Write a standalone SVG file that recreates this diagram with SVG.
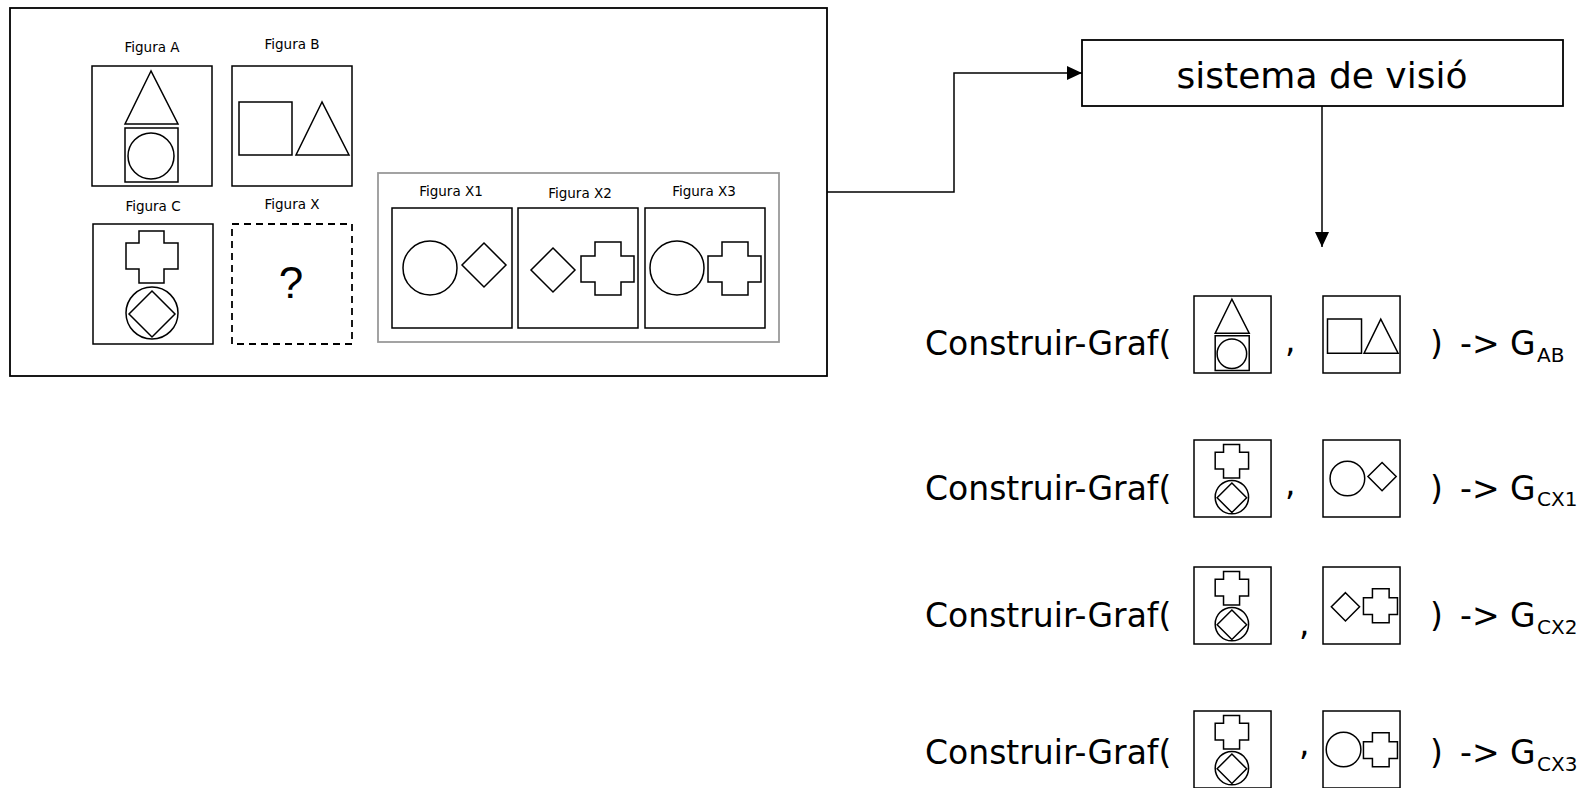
<svg xmlns="http://www.w3.org/2000/svg" width="1584" height="788" viewBox="0 0 1584 788">
<style>
  .ln{fill:none;stroke:#000;stroke-width:1.5;vector-effect:non-scaling-stroke}
  .dash{fill:none;stroke:#000;stroke-width:1.8;stroke-dasharray:7 5}
  .gray{fill:none;stroke:#999;stroke-width:1.8}
  .frame{fill:none;stroke:#000;stroke-width:1.8}
  .lbl{font-family:"DejaVu Sans",Verdana,sans-serif;font-size:13.5px;fill:#000;text-anchor:middle}
  .big{font-family:"DejaVu Sans",Verdana,sans-serif;font-size:33px;fill:#000}
  .sys{font-family:"DejaVu Sans",Verdana,sans-serif;font-size:36px;fill:#000;text-anchor:middle}
  .q{font-family:"Liberation Sans",Arial,sans-serif;font-size:44px;fill:#000;text-anchor:middle}
  .sub{font-size:20px}
  .conn{fill:none;stroke:#000;stroke-width:1.5}
</style>
<defs>
  <marker id="ah" markerUnits="userSpaceOnUse" markerWidth="15" markerHeight="14" refX="15" refY="7" orient="auto">
    <path d="M0,0 L15,7 L0,14 Z" fill="#000"/>
  </marker>
  <g id="fA">
    <rect class="ln" x="0" y="0" width="120" height="120"/>
    <polygon class="ln" points="59,5 33,58 86,58"/>
    <rect class="ln" x="33" y="62" width="53" height="54"/>
    <circle class="ln" cx="59" cy="90" r="23"/>
  </g>
  <g id="fB">
    <rect class="ln" x="0" y="0" width="120" height="120"/>
    <rect class="ln" x="7" y="36" width="53" height="53"/>
    <polygon class="ln" points="90,36 64,89 117,89"/>
  </g>
  <g id="fC">
    <rect class="ln" x="0" y="0" width="120" height="120"/>
    <path class="ln" d="M46,7 H71 V19 H85 V45 H71 V59 H46 V45 H33 V19 H46 Z"/>
    <circle class="ln" cx="59" cy="89" r="26"/>
    <polygon class="ln" points="59,67 82,90 59,113 36,90"/>
  </g>
  <g id="fX1">
    <rect class="ln" x="0" y="0" width="120" height="120"/>
    <circle class="ln" cx="38" cy="60" r="27"/>
    <polygon class="ln" points="92,35 114,57 92,79 70,57"/>
  </g>
  <g id="fX2">
    <rect class="ln" x="0" y="0" width="120" height="120"/>
    <polygon class="ln" points="35,40 57,62 35,84 13,62"/>
    <path class="ln" d="M77,34 H103 V48 H116 V74 H103 V87 H77 V74 H63 V48 H77 Z"/>
  </g>
  <g id="fX3">
    <rect class="ln" x="0" y="0" width="120" height="120"/>
    <circle class="ln" cx="32" cy="60" r="27"/>
    <path class="ln" d="M77,34 H103 V48 H116 V74 H103 V87 H77 V74 H63 V48 H77 Z"/>
  </g>
</defs>

<rect width="1584" height="788" fill="#fff"/>

<g id="panel">
  <rect class="frame" x="10" y="8" width="817" height="368"/>
</g>

<g id="figura-a">
  <text class="lbl" x="152" y="52">Figura A</text>
  <use href="#fA" transform="translate(92,66)"/>
</g>
<g id="figura-b">
  <text class="lbl" x="292" y="49">Figura B</text>
  <use href="#fB" transform="translate(232,66)"/>
</g>
<g id="figura-c">
  <text class="lbl" x="153" y="211">Figura C</text>
  <use href="#fC" transform="translate(93,224)"/>
</g>
<g id="figura-x">
  <text class="lbl" x="292" y="209">Figura X</text>
  <rect class="dash" x="232" y="224" width="120" height="120"/>
  <text class="q" x="291" y="298">?</text>
</g>

<g id="opcions">
  <rect class="gray" x="378" y="173" width="401" height="169"/>
</g>
<g id="figura-x1">
  <text class="lbl" x="451" y="196">Figura X1</text>
  <use href="#fX1" transform="translate(392,208)"/>
</g>
<g id="figura-x2">
  <text class="lbl" x="580" y="198">Figura X2</text>
  <use href="#fX2" transform="translate(518,208)"/>
</g>
<g id="figura-x3">
  <text class="lbl" x="704" y="196">Figura X3</text>
  <use href="#fX3" transform="translate(645,208)"/>
</g>

<g id="sistema">
  <rect class="frame" x="1082" y="40" width="481" height="66"/>
  <text class="sys" x="1322" y="88">sistema de visió</text>
</g>

<g id="connectors">
  <path class="conn" d="M827,192 H954 V73 H1082" marker-end="url(#ah)"/>
  <path class="conn" d="M1322,106 V247" marker-end="url(#ah)"/>
</g>

<g id="row-ab">
  <text class="big" x="925" y="355">Construir-Graf(</text>
  <use href="#fA" transform="translate(1194,296) scale(0.642)"/>
  <text class="big" x="1285" y="352">,</text>
  <use href="#fB" transform="translate(1323,296) scale(0.642)"/>
  <text class="big" x="1430" y="355">)</text>
  <text class="big" x="1460" y="355">-&gt;</text>
  <text class="big" x="1510" y="355">G<tspan class="sub" x="1537" y="362">AB</tspan></text>
</g>

<g id="row-cx1">
  <text class="big" x="925" y="500">Construir-Graf(</text>
  <use href="#fC" transform="translate(1194,440) scale(0.642)"/>
  <text class="big" x="1285" y="495">,</text>
  <use href="#fX1" transform="translate(1323,440) scale(0.642)"/>
  <text class="big" x="1430" y="500">)</text>
  <text class="big" x="1460" y="500">-&gt;</text>
  <text class="big" x="1510" y="500">G<tspan class="sub" x="1537" y="506">CX1</tspan></text>
</g>

<g id="row-cx2">
  <text class="big" x="925" y="627">Construir-Graf(</text>
  <use href="#fC" transform="translate(1194,567) scale(0.642)"/>
  <text class="big" x="1299" y="635">,</text>
  <use href="#fX2" transform="translate(1323,567) scale(0.642)"/>
  <text class="big" x="1430" y="627">)</text>
  <text class="big" x="1460" y="627">-&gt;</text>
  <text class="big" x="1510" y="627">G<tspan class="sub" x="1537" y="634">CX2</tspan></text>
</g>

<g id="row-cx3">
  <text class="big" x="925" y="764">Construir-Graf(</text>
  <use href="#fC" transform="translate(1194,711) scale(0.642)"/>
  <text class="big" x="1299" y="755">,</text>
  <use href="#fX3" transform="translate(1323,711) scale(0.642)"/>
  <text class="big" x="1430" y="764">)</text>
  <text class="big" x="1460" y="764">-&gt;</text>
  <text class="big" x="1510" y="764">G<tspan class="sub" x="1537" y="771">CX3</tspan></text>
</g>
</svg>
